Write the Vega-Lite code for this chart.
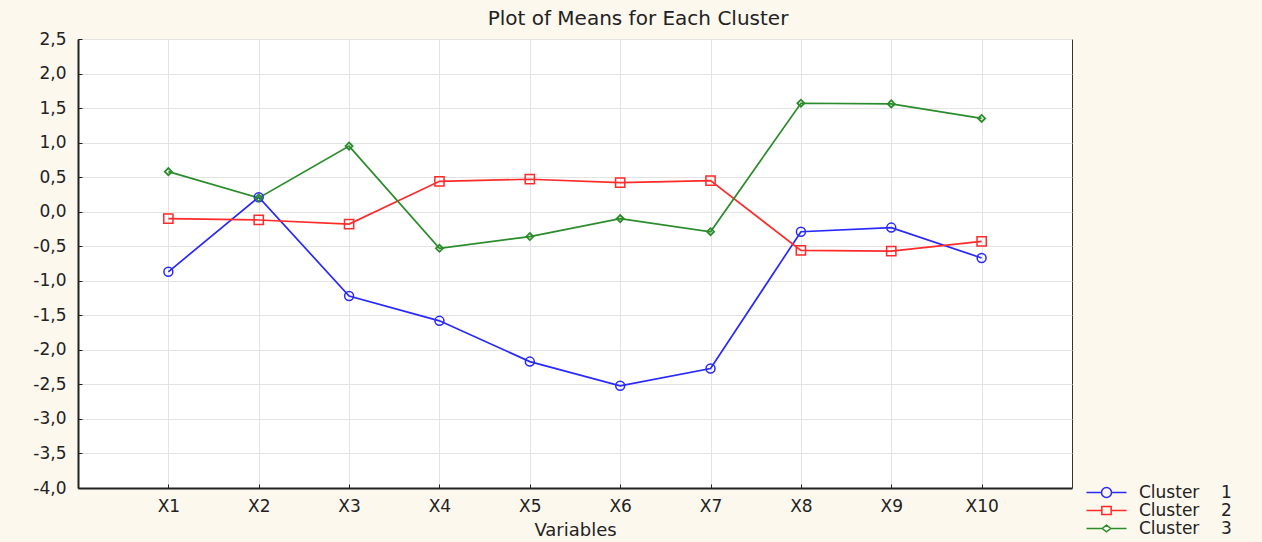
{
  "$schema": "https://vega.github.io/schema/vega-lite/v6.json",
  "width": 994,
  "height": 449,
  "autosize": "none",
  "padding": {"left": 78, "top": 39, "right": 190, "bottom": 54},
  "background": "#fdf8ee",
  "title": {
    "text": "Plot of Means for Each Cluster",
    "anchor": "middle",
    "frame": "group",
    "dx": 63,
    "offset": 1,
    "fontSize": 20,
    "font": "DejaVu Sans",
    "fontWeight": "normal",
    "color": "#222222"
  },
  "config": {
    "font": "DejaVu Sans",
    "view": {"fill": "white", "stroke": "#333333", "strokeWidth": 1}
  },
  "data": {
    "values": [
      {"cluster": "Cluster 1", "variable": "X1", "mean": -0.87},
      {"cluster": "Cluster 1", "variable": "X2", "mean": 0.21},
      {"cluster": "Cluster 1", "variable": "X3", "mean": -1.22},
      {"cluster": "Cluster 1", "variable": "X4", "mean": -1.58},
      {"cluster": "Cluster 1", "variable": "X5", "mean": -2.17},
      {"cluster": "Cluster 1", "variable": "X6", "mean": -2.52},
      {"cluster": "Cluster 1", "variable": "X7", "mean": -2.27},
      {"cluster": "Cluster 1", "variable": "X8", "mean": -0.29},
      {"cluster": "Cluster 1", "variable": "X9", "mean": -0.23},
      {"cluster": "Cluster 1", "variable": "X10", "mean": -0.67},
      {"cluster": "Cluster 2", "variable": "X1", "mean": -0.10},
      {"cluster": "Cluster 2", "variable": "X2", "mean": -0.12},
      {"cluster": "Cluster 2", "variable": "X3", "mean": -0.18},
      {"cluster": "Cluster 2", "variable": "X4", "mean": 0.44},
      {"cluster": "Cluster 2", "variable": "X5", "mean": 0.47},
      {"cluster": "Cluster 2", "variable": "X6", "mean": 0.42},
      {"cluster": "Cluster 2", "variable": "X7", "mean": 0.45},
      {"cluster": "Cluster 2", "variable": "X8", "mean": -0.56},
      {"cluster": "Cluster 2", "variable": "X9", "mean": -0.57},
      {"cluster": "Cluster 2", "variable": "X10", "mean": -0.43},
      {"cluster": "Cluster 3", "variable": "X1", "mean": 0.58},
      {"cluster": "Cluster 3", "variable": "X2", "mean": 0.20},
      {"cluster": "Cluster 3", "variable": "X3", "mean": 0.95},
      {"cluster": "Cluster 3", "variable": "X4", "mean": -0.53},
      {"cluster": "Cluster 3", "variable": "X5", "mean": -0.36},
      {"cluster": "Cluster 3", "variable": "X6", "mean": -0.10},
      {"cluster": "Cluster 3", "variable": "X7", "mean": -0.29},
      {"cluster": "Cluster 3", "variable": "X8", "mean": 1.57},
      {"cluster": "Cluster 3", "variable": "X9", "mean": 1.56},
      {"cluster": "Cluster 3", "variable": "X10", "mean": 1.35}
    ]
  },
  "encoding": {
    "x": {
      "field": "variable",
      "type": "ordinal",
      "sort": null,
      "scale": {"type": "point", "padding": 1.02},
      "axis": {
        "title": "Variables",
        "labelAngle": 0,
        "grid": true,
        "gridColor": "#e3e3e3",
        "domainColor": "#222222",
        "domainWidth": 2,
        "tickColor": "#222222",
        "tickSize": -4,
        "labelPadding": 14,
        "labelFontSize": 17,
        "labelColor": "#222222",
        "titleFontSize": 18,
        "titleFontWeight": "normal",
        "titleColor": "#222222",
        "titlePadding": 7
      }
    },
    "y": {
      "field": "mean",
      "type": "quantitative",
      "scale": {"domain": [-4, 2.5], "nice": false, "zero": false},
      "axis": {
        "title": null,
        "values": [-4, -3.5, -3, -2.5, -2, -1.5, -1, -0.5, 0, 0.5, 1, 1.5, 2, 2.5],
        "labelExpr": "replace(replace(format(datum.value, '.1f'), '.', ','), '\u2212', '-')",
        "grid": true,
        "gridColor": "#e3e3e3",
        "domainColor": "#222222",
        "domainWidth": 2,
        "tickColor": "#222222",
        "tickSize": -4,
        "labelPadding": 16,
        "labelFontSize": 17,
        "labelColor": "#222222"
      }
    },
    "color": {
      "field": "cluster",
      "type": "nominal",
      "scale": {
        "domain": ["Cluster 1", "Cluster 2", "Cluster 3"],
        "range": ["#2828ff", "#ff2a2a", "#2a8c2a"]
      },
      "legend": {
        "title": null,
        "orient": "none",
        "legendX": 1020,
        "legendY": 445,
        "symbolSize": 178,
        "symbolStrokeWidth": 1.5,
        "labelFontSize": 17,
        "labelOffset": 24,
        "rowPadding": 0,
        "labelColor": "#222222",
        "labelExpr": "replace(datum.label, ' ', '\u00a0\u00a0\u00a0\u00a0')",
        "encode": {
          "symbols": {
            "update": {
              "shape": {"signal": "datum.value == 'Cluster 1' ? 'M-3,0H-0.75M0.75,0H3M-0.75,0A0.75,0.75,0,1,0,0.75,0A0.75,0.75,0,1,0,-0.75,0' : datum.value == 'Cluster 2' ? 'M-3,0H-0.7M0.7,0H3M-0.7,-0.6H0.7V0.6H-0.7Z' : 'M-3,0H-0.65M0.65,0H3M0,-0.5L0.65,0L0,0.5L-0.65,0Z'"},
              "fill": {"value": "transparent"}
            }
          }
        }
      }
    }
  },
  "layer": [
    {
      "mark": {"type": "line", "strokeWidth": 1.7}
    },
    {
      "transform": [{"filter": "datum.cluster == 'Cluster 1'"}],
      "mark": {"type": "point", "shape": "circle", "size": 80, "filled": false, "strokeWidth": 1.5, "opacity": 1}
    },
    {
      "transform": [{"filter": "datum.cluster == 'Cluster 2'"}],
      "mark": {"type": "point", "shape": "square", "size": 85, "filled": false, "strokeWidth": 1.5, "opacity": 1}
    },
    {
      "transform": [{"filter": "datum.cluster == 'Cluster 3'"}],
      "mark": {"type": "point", "shape": "diamond", "size": 50, "filled": false, "strokeWidth": 1.8, "opacity": 1}
    }
  ]
}
